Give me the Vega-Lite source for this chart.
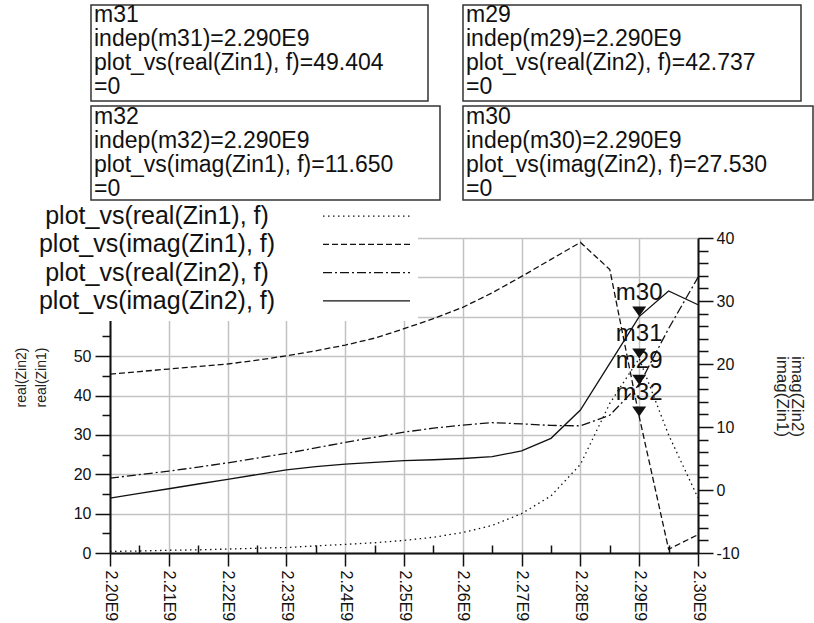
{
  "$schema": "https://vega.github.io/schema/vega-lite/v6.json",
  "width": 588,
  "height": 315,
  "autosize": {"type": "none"},
  "padding": {"left": 110, "top": 238, "right": 116, "bottom": 70},
  "background": "white",
  "config": {
    "view": {"stroke": null},
    "font": "Liberation Sans",
    "axis": {"labelFont": "Liberation Sans", "titleFont": "Liberation Sans", "labelColor": "#111", "titleColor": "#222", "titleFontWeight": "normal", "zindex": 0},
    "text": {"font": "Liberation Sans"}
  },
  "datasets": {
    "z": [
      {"f": 2200000000, "real_Zin1": 0.4, "imag_Zin1": 18.4, "real_Zin2": 19.0, "imag_Zin2": -1.3},
      {"f": 2205000000, "real_Zin1": 0.5, "imag_Zin1": 18.8, "real_Zin2": 19.9, "imag_Zin2": -0.55},
      {"f": 2210000000, "real_Zin1": 0.7, "imag_Zin1": 19.2, "real_Zin2": 20.8, "imag_Zin2": 0.2},
      {"f": 2215000000, "real_Zin1": 0.8, "imag_Zin1": 19.6, "real_Zin2": 21.8, "imag_Zin2": 0.95},
      {"f": 2220000000, "real_Zin1": 1.0, "imag_Zin1": 20.0, "real_Zin2": 22.9, "imag_Zin2": 1.7},
      {"f": 2225000000, "real_Zin1": 1.2, "imag_Zin1": 20.6, "real_Zin2": 24.1, "imag_Zin2": 2.45},
      {"f": 2230000000, "real_Zin1": 1.4, "imag_Zin1": 21.3, "real_Zin2": 25.3, "imag_Zin2": 3.2},
      {"f": 2235000000, "real_Zin1": 1.8, "imag_Zin1": 22.1, "real_Zin2": 26.7, "imag_Zin2": 3.7},
      {"f": 2240000000, "real_Zin1": 2.2, "imag_Zin1": 23.0, "real_Zin2": 28.1, "imag_Zin2": 4.1},
      {"f": 2245000000, "real_Zin1": 2.6, "imag_Zin1": 24.1, "real_Zin2": 29.4, "imag_Zin2": 4.4},
      {"f": 2250000000, "real_Zin1": 3.2, "imag_Zin1": 25.6, "real_Zin2": 30.7, "imag_Zin2": 4.65},
      {"f": 2255000000, "real_Zin1": 4.0, "imag_Zin1": 27.2, "real_Zin2": 31.7, "imag_Zin2": 4.8},
      {"f": 2260000000, "real_Zin1": 5.2, "imag_Zin1": 29.0, "real_Zin2": 32.5, "imag_Zin2": 5.0},
      {"f": 2265000000, "real_Zin1": 7.0, "imag_Zin1": 31.3, "real_Zin2": 33.1, "imag_Zin2": 5.3},
      {"f": 2270000000, "real_Zin1": 10.0, "imag_Zin1": 33.9, "real_Zin2": 32.8, "imag_Zin2": 6.2},
      {"f": 2275000000, "real_Zin1": 14.5, "imag_Zin1": 36.6, "real_Zin2": 32.4, "imag_Zin2": 8.2},
      {"f": 2280000000, "real_Zin1": 22.5, "imag_Zin1": 39.3, "real_Zin2": 32.3, "imag_Zin2": 12.7},
      {"f": 2285000000, "real_Zin1": 38.0, "imag_Zin1": 35.0, "real_Zin2": 35.0, "imag_Zin2": 20.1},
      {"f": 2290000000, "real_Zin1": 49.404, "imag_Zin1": 11.65, "real_Zin2": 42.737, "imag_Zin2": 27.53},
      {"f": 2295000000, "real_Zin1": 30.0, "imag_Zin1": -9.4, "real_Zin2": 57.0, "imag_Zin2": 31.6},
      {"f": 2300000000, "real_Zin1": 14.0, "imag_Zin1": -7.1, "real_Zin2": 70.0, "imag_Zin2": 29.4}
    ],
    "mreal": [
      {"marker": "m31", "f": 2290000000, "value": 49.404},
      {"marker": "m29", "f": 2290000000, "value": 42.737}
    ],
    "mimag": [
      {"marker": "m32", "f": 2290000000, "value": 11.65},
      {"marker": "m30", "f": 2290000000, "value": 27.53}
    ]
  },
  "layer": [
    {
      "layer": [
        {
          "data": {"name": "z"},
          "mark": {"type": "line", "color": "#111", "strokeWidth": 1.3, "strokeDash": [1.5, 3.5]},
          "encoding": {
            "x": {
              "field": "f", "type": "quantitative",
              "scale": {"domain": [2200000000, 2300000000], "nice": false, "zero": false},
              "axis": {
                "values": [2200000000, 2205000000, 2210000000, 2215000000, 2220000000, 2225000000, 2230000000, 2235000000, 2240000000, 2245000000, 2250000000, 2255000000, 2260000000, 2265000000, 2270000000, 2275000000, 2280000000, 2285000000, 2290000000, 2295000000, 2300000000],
                "tickCount": 500,
                "labelExpr": "round(datum.value/1e6) % 10 == 0 ? format(datum.value/1e9, '.2f') + 'E9' : ''",
                "labelAngle": 90, "labelFontSize": 16, "labelPadding": 4,
                "tickSize": {"condition": {"test": "round(datum.value/1e6) % 10 == 0", "value": 13}, "value": -8},
                "grid": true, "gridColor": "#c2c2c2", "gridWidth": 1.5,
                "gridOpacity": {"condition": {"test": "round(datum.value/1e6) % 10 == 0", "value": 1}, "value": 0},
                "title": null, "domainColor": "#111", "domainWidth": 2, "tickColor": "#111", "tickWidth": 1.5,
                "labelOverlap": false, "labelFlush": false, "labelBound": false
              }
            },
            "y": {
              "field": "real_Zin1", "type": "quantitative",
              "scale": {"domain": [0, 80], "nice": false, "zero": false},
              "axis": {
                "values": [0, 5, 10, 15, 20, 25, 30, 35, 40, 45, 50, 55, 60, 65, 70, 75, 80],
                "tickCount": 500,
                "labelExpr": "datum.value % 10 == 0 && datum.value < 60 ? '' + datum.value : ''",
                "labelFontSize": 16, "labelPadding": 4,
                "tickSize": {"condition": {"test": "datum.value % 10 == 0", "value": 15}, "value": 8},
                "grid": true, "gridColor": "#c2c2c2", "gridWidth": 1.5,
                "gridOpacity": {"condition": {"test": "datum.value % 10 == 0", "value": 1}, "value": 0},
                "title": ["real(Zin2)", "real(Zin1)"],
                "titleAngle": -90, "titleX": -89, "titleY": 139, "titleAlign": "center", "titleBaseline": "middle",
                "titleFontSize": 14, "titleLineHeight": 20,
                "domainColor": "#111", "domainWidth": 2, "tickColor": "#111", "tickWidth": 1.5,
                "labelOverlap": false, "labelFlush": false, "labelBound": false
              }
            }
          }
        },
        {
          "data": {"name": "z"},
          "mark": {"type": "line", "color": "#111", "strokeWidth": 1.3, "strokeDash": [9, 3, 2, 3]},
          "encoding": {
            "x": {"field": "f", "type": "quantitative"},
            "y": {"field": "real_Zin2", "type": "quantitative"}
          }
        },
        {
          "data": {"values": [{}]},
          "mark": {"type": "rect", "fill": "white", "strokeWidth": 0},
          "encoding": {
            "x": {"datum": 2181292500, "type": "quantitative"},
            "x2": {"datum": 2252381000},
            "y": {"datum": 58.92, "type": "quantitative"},
            "y2": {"datum": 89.65}
          }
        },
        {
          "data": {"values": [{"label": "plot_vs(real(Zin1), f)\nplot_vs(imag(Zin1), f)\nplot_vs(real(Zin2), f)\nplot_vs(imag(Zin2), f)"}]},
          "mark": {"type": "text", "align": "center", "baseline": "middle", "fontSize": 25, "lineBreak": "\n", "lineHeight": 28.3, "color": "#111"},
          "encoding": {
            "x": {"datum": 2207993200, "type": "quantitative"},
            "y": {"datum": 85.59, "type": "quantitative"},
            "text": {"field": "label"}
          }
        },
        {
          "data": {"values": [{}]},
          "mark": {"type": "rule", "color": "#111", "strokeWidth": 1.3, "strokeDash": [1.5, 3.5]},
          "encoding": {"x": {"datum": 2236224500, "type": "quantitative"}, "x2": {"datum": 2251020400}, "y": {"datum": 85.58, "type": "quantitative"}}
        },
        {
          "data": {"values": [{}]},
          "mark": {"type": "rule", "color": "#111", "strokeWidth": 1.3, "strokeDash": [6, 3]},
          "encoding": {"x": {"datum": 2236224500, "type": "quantitative"}, "x2": {"datum": 2251020400}, "y": {"datum": 78.39, "type": "quantitative"}}
        },
        {
          "data": {"values": [{}]},
          "mark": {"type": "rule", "color": "#111", "strokeWidth": 1.3, "strokeDash": [9, 3, 2, 3]},
          "encoding": {"x": {"datum": 2236224500, "type": "quantitative"}, "x2": {"datum": 2251020400}, "y": {"datum": 71.2, "type": "quantitative"}}
        },
        {
          "data": {"values": [{}]},
          "mark": {"type": "rule", "color": "#111", "strokeWidth": 1.3},
          "encoding": {"x": {"datum": 2236224500, "type": "quantitative"}, "x2": {"datum": 2251020400}, "y": {"datum": 64.01, "type": "quantitative"}}
        },
        {
          "data": {"values": [{}]},
          "mark": {"type": "rect", "fill": "white", "stroke": "#333", "strokeWidth": 1.5},
          "encoding": {"x": {"datum": 2196768700, "type": "quantitative"}, "x2": {"datum": 2254081600}, "y": {"datum": 114.79, "type": "quantitative"}, "y2": {"datum": 139.17}}
        },
        {
          "data": {"values": [{}]},
          "mark": {"type": "rect", "fill": "white", "stroke": "#333", "strokeWidth": 1.5},
          "encoding": {"x": {"datum": 2196768700, "type": "quantitative"}, "x2": {"datum": 2256122400}, "y": {"datum": 89.65, "type": "quantitative"}, "y2": {"datum": 113.52}}
        },
        {
          "data": {"values": [{}]},
          "mark": {"type": "rect", "fill": "white", "stroke": "#333", "strokeWidth": 1.5},
          "encoding": {"x": {"datum": 2260034000, "type": "quantitative"}, "x2": {"datum": 2317517000}, "y": {"datum": 114.79, "type": "quantitative"}, "y2": {"datum": 139.17}}
        },
        {
          "data": {"values": [{}]},
          "mark": {"type": "rect", "fill": "white", "stroke": "#333", "strokeWidth": 1.5},
          "encoding": {"x": {"datum": 2260034000, "type": "quantitative"}, "x2": {"datum": 2319557800}, "y": {"datum": 89.65, "type": "quantitative"}, "y2": {"datum": 113.52}}
        },
        {
          "data": {"values": [{"label": "m31\nindep(m31)=2.290E9\nplot_vs(real(Zin1), f)=49.404\n=0"}]},
          "mark": {"type": "text", "align": "left", "baseline": "middle", "fontSize": 23, "lineBreak": "\n", "lineHeight": 24, "color": "#111"},
          "encoding": {"x": {"datum": 2197278900, "type": "quantitative"}, "y": {"datum": 136.63, "type": "quantitative"}, "text": {"field": "label"}}
        },
        {
          "data": {"values": [{"label": "m32\nindep(m32)=2.290E9\nplot_vs(imag(Zin1), f)=11.650\n=0"}]},
          "mark": {"type": "text", "align": "left", "baseline": "middle", "fontSize": 23, "lineBreak": "\n", "lineHeight": 24, "color": "#111"},
          "encoding": {"x": {"datum": 2197278900, "type": "quantitative"}, "y": {"datum": 110.73, "type": "quantitative"}, "text": {"field": "label"}}
        },
        {
          "data": {"values": [{"label": "m29\nindep(m29)=2.290E9\nplot_vs(real(Zin2), f)=42.737\n=0"}]},
          "mark": {"type": "text", "align": "left", "baseline": "middle", "fontSize": 23, "lineBreak": "\n", "lineHeight": 24, "color": "#111"},
          "encoding": {"x": {"datum": 2260544200, "type": "quantitative"}, "y": {"datum": 136.63, "type": "quantitative"}, "text": {"field": "label"}}
        },
        {
          "data": {"values": [{"label": "m30\nindep(m30)=2.290E9\nplot_vs(imag(Zin2), f)=27.530\n=0"}]},
          "mark": {"type": "text", "align": "left", "baseline": "middle", "fontSize": 23, "lineBreak": "\n", "lineHeight": 24, "color": "#111"},
          "encoding": {"x": {"datum": 2260544200, "type": "quantitative"}, "y": {"datum": 110.73, "type": "quantitative"}, "text": {"field": "label"}}
        },
        {
          "data": {"name": "mreal"},
          "mark": {"type": "point", "shape": "M -1 -0.43 L 1 -0.43 L 0 1 Z", "filled": true, "color": "#111", "opacity": 1, "size": 196, "yOffset": -7},
          "encoding": {"x": {"field": "f", "type": "quantitative"}, "y": {"field": "value", "type": "quantitative"}}
        },
        {
          "data": {"name": "mreal"},
          "mark": {"type": "text", "align": "center", "baseline": "middle", "fontSize": 24, "yOffset": -24, "color": "#111"},
          "encoding": {"x": {"field": "f", "type": "quantitative"}, "y": {"field": "value", "type": "quantitative"}, "text": {"field": "marker"}}
        }
      ]
    },
    {
      "layer": [
        {
          "data": {"name": "z"},
          "mark": {"type": "line", "color": "#111", "strokeWidth": 1.3, "strokeDash": [6, 3]},
          "encoding": {
            "x": {"field": "f", "type": "quantitative"},
            "y": {
              "field": "imag_Zin1", "type": "quantitative",
              "scale": {"domain": [-10, 40], "nice": false, "zero": false},
              "axis": {
                "orient": "right",
                "values": [-10, -8, -6, -4, -2, 0, 2, 4, 6, 8, 10, 12, 14, 16, 18, 20, 22, 24, 26, 28, 30, 32, 34, 36, 38, 40],
                "tickCount": 500,
                "labelExpr": "datum.value % 10 == 0 ? '' + datum.value : ''",
                "labelFontSize": 16, "labelPadding": 3,
                "tickSize": {"condition": {"test": "datum.value % 10 == 0", "value": 15}, "value": 10},
                "grid": false,
                "title": ["imag(Zin2)", "imag(Zin1)"],
                "titleAngle": 90, "titleX": 98, "titleY": 158, "titleAlign": "center", "titleBaseline": "middle",
                "titleFontSize": 17, "titleLineHeight": 15,
                "domainColor": "#111", "domainWidth": 2, "tickColor": "#111", "tickWidth": 1.5,
                "labelOverlap": false, "labelFlush": false, "labelBound": false
              }
            }
          }
        },
        {
          "data": {"name": "z"},
          "mark": {"type": "line", "color": "#111", "strokeWidth": 1.3},
          "encoding": {
            "x": {"field": "f", "type": "quantitative"},
            "y": {"field": "imag_Zin2", "type": "quantitative"}
          }
        },
        {
          "data": {"name": "mimag"},
          "mark": {"type": "point", "shape": "M -1 -0.43 L 1 -0.43 L 0 1 Z", "filled": true, "color": "#111", "opacity": 1, "size": 196, "yOffset": -7},
          "encoding": {"x": {"field": "f", "type": "quantitative"}, "y": {"field": "value", "type": "quantitative"}}
        },
        {
          "data": {"name": "mimag"},
          "mark": {"type": "text", "align": "center", "baseline": "middle", "fontSize": 24, "yOffset": -24, "color": "#111"},
          "encoding": {"x": {"field": "f", "type": "quantitative"}, "y": {"field": "value", "type": "quantitative"}, "text": {"field": "marker"}}
        }
      ]
    }
  ],
  "resolve": {"scale": {"y": "independent"}}
}
